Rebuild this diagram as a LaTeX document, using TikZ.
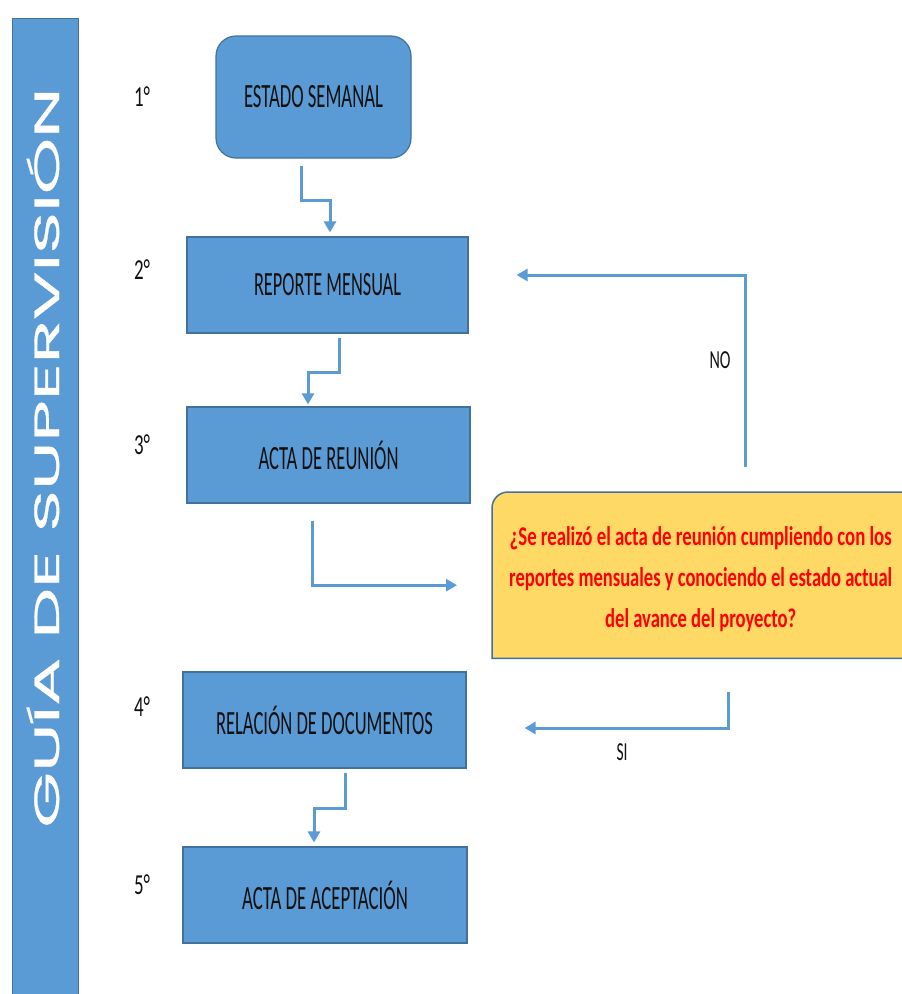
\documentclass[tikz,border=0pt]{standalone}
\usepackage{fontspec}
\setmainfont{Carlito}
\newfontfamily\barfont[FakeBold=0.8]{Poppins}
\usetikzlibrary{arrows.meta}
\definecolor{boxblue}{HTML}{5B9BD5}
\definecolor{boxedge}{HTML}{41719C}
\definecolor{qyellow}{HTML}{FFD966}
\definecolor{qred}{HTML}{FF0000}
\definecolor{ink}{HTML}{111111}
% squeeze a text horizontally to a given width, keeping its height
\newcommand{\sqz}[2]{\resizebox{#1}{\height}{#2}}
\newcommand{\boxtxt}[2]{\sqz{#1}{\fontsize{34}{34}\selectfont #2}}
\newcommand{\steptxt}[1]{\sqz{16pt}{\fontsize{29}{29}\selectfont #1}}

\begin{document}
\begin{tikzpicture}[x=1pt,y=-1pt,
  stepbox/.style={draw=boxedge, line width=1.2pt, fill=boxblue, inner sep=0pt,
    text=ink, minimum height=96pt},
  steplbl/.style={inner sep=0pt, text=ink},
  flow/.style={draw=boxblue, line width=3pt,
    -{Triangle[length=11pt,width=12pt]}},
]
\useasboundingbox (0,0) rectangle (902,994);
\fill[white] (0,0) rectangle (902,994);

% side banner
\node (bar) [draw=boxedge, line width=1.2pt, fill=boxblue, anchor=north west,
  minimum width=66pt, minimum height=1000pt, inner sep=0pt] at (12,18) {};
\node (bartxt) [rotate=90, anchor=base, text=white, inner sep=0pt] at (59,457.5)
  {\sqz{740pt}{\fontsize{35}{35}\selectfont\barfont GUÍA DE SUPERVISIÓN}};

% process steps
\node (b1) [stepbox, rounded corners=20pt, minimum width=195pt, minimum height=122pt]
  at (313.5,97) {\boxtxt{139pt}{ESTADO SEMANAL}};
\node (b2) [stepbox, minimum width=281pt] at (327.5,285) {\boxtxt{147pt}{REPORTE MENSUAL}};
\node (b3) [stepbox, minimum width=283pt] at (328.5,455) {\boxtxt{140pt}{ACTA DE REUNIÓN}};
\node (b4) [stepbox, minimum width=283pt] at (324.5,720) {\boxtxt{217pt}{RELACIÓN DE DOCUMENTOS}};
\node (b5) [stepbox, minimum width=284pt] at (325,895) {\boxtxt{166pt}{ACTA DE ACEPTACIÓN}};

% step numbers
\node (n1) [steplbl] at (142,97) {\steptxt{1°}};
\node (n2) [steplbl] at (142,270) {\steptxt{2°}};
\node (n3) [steplbl] at (142,445) {\steptxt{3°}};
\node (n4) [steplbl] at (142,707) {\steptxt{4°}};
\node (n5) [steplbl] at (142,885) {\steptxt{5°}};

% decision box: only its top left corner is rounded, its right side runs off the page
\node (q) [anchor=north west, minimum width=423pt, minimum height=166pt, inner sep=0pt]
  at (492,492) {};
\fill[qyellow] (q.south east) -- (q.south west) [rounded corners=16pt] -- (q.north west)
  [sharp corners] -- (q.north east) -- cycle;
\draw[boxedge, line width=1.5pt] (q.south east) -- (q.south west) [rounded corners=16pt]
  -- (q.north west) [sharp corners] -- (q.north east);
\node (qt) [inner sep=0pt, align=center, text=qred, font=\fontsize{27}{41}\selectfont\bfseries]
  at ([xshift=-3pt,yshift=-4pt]q.center) {%
  \sqz{382pt}{¿Se realizó el acta de reunión cumpliendo con los}\\
  \sqz{383pt}{reportes mensuales y conociendo el estado actual}\\
  \sqz{191pt}{del avance del proyecto?}};

% connectors
\draw[flow] ([xshift=-12.5pt,yshift=-7pt]b1.south) -- ++(0,35)
  -| ([xshift=2.5pt,yshift=4pt]b2.north);
\draw[flow] ([xshift=11.5pt,yshift=-4pt]b2.south) -- ++(0,35)
  -| ([xshift=-20.5pt,yshift=2pt]b3.north);
\draw[flow] ([xshift=-16.5pt,yshift=-17pt]b3.south)
  |- ([xshift=-35pt,yshift=-10pt]q.west);
\draw[flow] ([xshift=41.5pt,yshift=25pt]q.north)
  |- ([xshift=48pt,yshift=10pt]b2.east);
\draw[flow] ([xshift=24.5pt,yshift=-34pt]q.south)
  |- ([xshift=58pt,yshift=-8pt]b4.east);
\draw[flow] ([xshift=20.5pt,yshift=-4pt]b4.south) -- ++(0,36)
  -| ([xshift=-11pt,yshift=4pt]b5.north);

% branch labels
\node (no) [steplbl] at (720,360) {\sqz{21pt}{\fontsize{26}{26}\selectfont NO}};
\node (si) [steplbl] at (622,752) {\sqz{11pt}{\fontsize{26}{26}\selectfont SI}};
\end{tikzpicture}
\end{document}
